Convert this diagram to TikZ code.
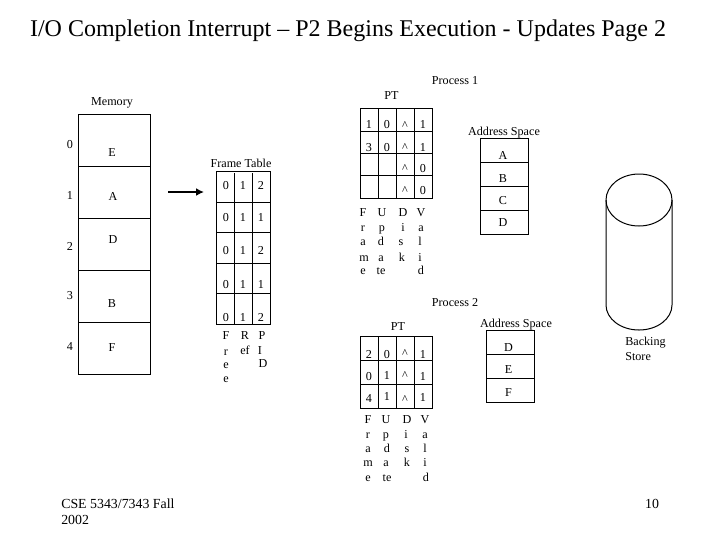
\documentclass[tikz,border=0pt]{standalone}
\usepackage{fontspec}
\setmainfont{Liberation Serif}
\usetikzlibrary{arrows.meta}
\tikzset{
  box/.style={draw=black,line width=0.75pt,fill=none},
  line/.style={draw=black,line width=0.75pt},
  txt/.style={inner sep=0pt,text height=6.2pt,text depth=0pt,font=\fontsize{9.1pt}{11pt}\selectfont},
  ltxt/.style={txt,anchor=west},
  ftxt/.style={inner sep=0pt,text height=6.6pt,text depth=0pt,font=\fontsize{10.4pt}{12pt}\selectfont},
  ttl/.style={inner sep=0pt,font=\fontsize{18pt}{20pt}\selectfont}
}
\begin{document}
\begin{tikzpicture}[x=0.75pt,y=-0.75pt]
\useasboundingbox[fill=white] (0,0) rectangle (720,540);
\node[ttl] (title) at (348,31) {I/O Completion Interrupt -- P2 Begins Execution - Updates Page 2};
% Memory
\node[txt] (memlabel) at (112,101) {Memory};
\draw[box] (78.5,114) rectangle (150.5,374);
\foreach \yy in {166,218,270,322} \draw[line] (78.5,\yy) -- (150.5,\yy);
\foreach \t/\yy in {0/144,1/195,2/246,3/295,4/346} \node[txt] at (70,\yy) {\t};
\foreach \t/\xx/\yy in {E/112/152,A/113/196,D/113/239,B/112/303,F/112/347} \node[txt] at (\xx,\yy) {\t};
% Arrow
\coordinate (arrS) at (168,192);
\coordinate (arrE) at (204,192);
\draw[black,line width=1.5pt,-{Latex[length=6pt,width=6pt]}] (arrS) -- (arrE);
% Frame table
\node[txt] (ftlabel) at (241,163) {Frame Table};
\draw[box] (216.5,171) rectangle (270.5,324.5);
\foreach \yy in {202.5,232.5,263.5,293.5} \draw[line] (216.5,\yy) -- (270.5,\yy);
\foreach \xx in {234.5,252.5} \draw[line] (\xx,173) -- (\xx,324.5);
\foreach \a/\b/\c/\yy in {0/1/2/185,0/1/1/217,0/1/2/250,0/1/1/284,0/1/2/317}{
  \node[txt] at (226,\yy) {\a};\node[txt] at (243,\yy) {\b};\node[txt] at (261,\yy) {\c};}
\foreach \t/\xx/\yy in {F/226/335,r/226/351,e/226/364,e/226/378,R/245/335,ef/245/350,P/262/335,I/260/350,D/263/363}
  \node[txt] at (\xx,\yy) {\t};
% Process 1
\node[txt] (p1) at (455,80) {Process 1};
\node[txt] (pt1) at (391.5,95) {PT};
\draw[box] (360.5,108.5) rectangle (432.5,198.5);
\foreach \yy in {131,153.5,175.5} \draw[line] (360.5,\yy) -- (432.5,\yy);
\foreach \xx in {378.5,396.5,414.5} \draw[line] (\xx,108.5) -- (\xx,198.5);
\foreach \t/\xx/\yy in {1/369/124,0/387/124,\textasciicircum/405/125,1/423/124,
  3/369/147,0/387/147,\textasciicircum/405/147,1/423/147,
  \textasciicircum/405/168,0/423/168,\textasciicircum/405/190,0/423/190}
  \node[txt] at (\xx,\yy) {\t};
\foreach \t/\xx/\yy in {F/363/212,r/363/227,a/363/241,m/364/257,e/363/270,
  U/382/212,p/382/227,d/381/241,a/381/257,te/381/270,
  D/403/212,i/403/227,s/401/241,k/402/257,
  V/421/212,a/421/227,l/420/241,i/420/257,d/421/270}
  \node[txt] at (\xx,\yy) {\t};
\node[txt] (as1) at (504,131) {Address Space};
\draw[box] (480.5,138.5) rectangle (528.5,234.5);
\foreach \yy in {162.5,186.5,210.5} \draw[line] (480.5,\yy) -- (528.5,\yy);
\foreach \t/\yy in {A/155,B/178,C/200,D/222} \node[txt] at (503,\yy) {\t};
% Process 2
\node[txt] (p2) at (455,302) {Process 2};
\node[txt] (pt2) at (398,326) {PT};
\draw[box] (360.5,336.5) rectangle (432.5,408.5);
\foreach \yy in {360.5,384.5} \draw[line] (360.5,\yy) -- (432.5,\yy);
\foreach \xx in {378.5,396.5,414.5} \draw[line] (\xx,336.5) -- (\xx,408.5);
\foreach \t/\xx/\yy in {2/369/354,0/387/354,\textasciicircum/405/353,1/423/354,
  0/369/376,1/387/375,\textasciicircum/405/375,1/423/376,
  4/369/398,1/387/396,\textasciicircum/405/399,1/423/397}
  \node[txt] at (\xx,\yy) {\t};
\foreach \t/\xx/\yy in {F/368/419,r/368/434,a/368/448,m/368/462,e/368/477,
  U/386/419,p/386/434,d/387/448,a/386/462,te/387/477,
  D/407/419,i/406/434,s/407/448,k/407/462,
  V/425/419,a/425/434,l/425/448,i/425/462,d/426/477}
  \node[txt] at (\xx,\yy) {\t};
\node[txt] (as2) at (516,323) {Address Space};
\draw[box] (486.5,330.5) rectangle (534.5,402.5);
\foreach \yy in {354.5,378.5} \draw[line] (486.5,\yy) -- (534.5,\yy);
\foreach \t/\yy in {D/347,E/369,F/392} \node[txt] at (508.5,\yy) {\t};
% Backing store
\draw[line] (606,200) arc[start angle=180,end angle=-180,x radius=33,y radius=26];
\draw[line] (606,200) -- (606,305) arc[start angle=180,end angle=360,x radius=33,y radius=-25] -- (672,200);
\node[ltxt] (bs1) at (625,341) {Backing};
\node[ltxt] (bs2) at (625,356) {Store};
% Footer
\node[ftxt,anchor=west] (foot1) at (61,504) {CSE 5343/7343 Fall};
\node[ftxt,anchor=west] (foot2) at (61,520) {2002};
\node[ftxt] (pageno) at (652,504) {10};
\end{tikzpicture}
\end{document}
